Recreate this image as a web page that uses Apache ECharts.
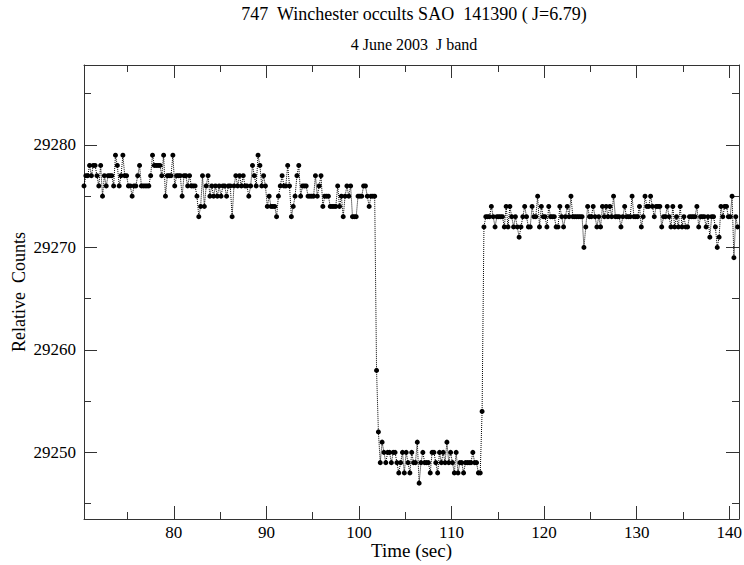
<!DOCTYPE html>
<html>
<head>
<meta charset="utf-8">
<script src="https://cdn.jsdelivr.net/npm/echarts@6/dist/echarts.min.js"></script>
<style>html,body{margin:0;padding:0;background:#fff}#c{width:744px;height:565px}</style>
</head>
<body>
<div id="c"></div>
<script>
// ---- data ----
var titleText = "747  Winchester occults SAO  141390 ( J=6.79)";
var subtitleText = "4 June 2003  J band";
var xName = "Time (sec)";
var yName = "Relative  Counts";
var startTime = 70.3;   // seconds, first sample
var sampleStep = 0.2;   // seconds between samples
var counts = [
29276,29277,29277,29278,29277,29278,29278,29277,29276,29278,
29275,29277,29276,29277,29277,29277,29276,29279,29278,29276,
29277,29279,29277,29277,29276,29276,29275,29276,29276,29277,
29278,29276,29276,29276,29276,29276,29277,29279,29278,29278,
29278,29278,29277,29279,29275,29277,29277,29277,29279,29276,
29277,29277,29277,29275,29277,29277,29276,29277,29276,29276,
29276,29275,29273,29274,29277,29274,29276,29277,29275,29276,
29275,29276,29275,29276,29275,29276,29276,29275,29276,29276,
29273,29276,29277,29276,29277,29276,29277,29276,29276,29275,
29276,29278,29277,29276,29279,29278,29276,29277,29276,29274,
29275,29274,29274,29274,29273,29275,29276,29277,29276,29276,
29278,29276,29273,29274,29275,29277,29278,29275,29276,29276,
29276,29275,29275,29275,29275,29277,29275,29276,29277,29274,
29275,29275,29275,29274,29274,29274,29274,29276,29274,29275,
29273,29275,29276,29275,29276,29273,29273,29273,29275,29275,
29275,29276,29276,29275,29274,29275,29275,29275,29258,29252,
29249,29251,29250,29249,29250,29250,29249,29250,29250,29249,
29248,29249,29250,29248,29250,29249,29248,29250,29249,29249,
29251,29247,29249,29250,29249,29249,29249,29248,29250,29250,
29249,29248,29250,29249,29250,29249,29251,29249,29250,29249,
29248,29250,29248,29249,29249,29248,29249,29249,29249,29249,
29250,29249,29249,29248,29248,29254,29272,29273,29273,29273,
29274,29273,29272,29273,29273,29273,29273,29272,29274,29272,
29274,29273,29272,29273,29272,29271,29272,29273,29274,29273,
29272,29272,29274,29273,29273,29275,29272,29274,29273,29273,
29272,29274,29273,29273,29273,29272,29272,29274,29273,29272,
29273,29274,29273,29275,29273,29273,29273,29273,29273,29273,
29270,29272,29274,29273,29273,29274,29273,29272,29273,29272,
29274,29273,29274,29273,29274,29273,29275,29273,29273,29273,
29272,29273,29274,29273,29273,29273,29275,29273,29273,29273,
29274,29272,29273,29275,29274,29274,29275,29274,29273,29274,
29274,29274,29272,29273,29273,29274,29273,29272,29274,29272,
29273,29272,29274,29272,29273,29272,29272,29273,29273,29273,
29273,29274,29272,29273,29273,29273,29272,29273,29271,29273,
29273,29272,29270,29271,29274,29273,29274,29274,29273,29273,
29275,29269,29273,29272
];
var xMajorTicks = [80, 90, 100, 110, 120, 130, 140];
var xMinorTicks = [75, 85, 95, 105, 115, 125, 135];
var yMajorTicks = [29250, 29260, 29270, 29280];
var yMinorTicks = [29245, 29255, 29265, 29275, 29285];

// ---- chart ----
var points = counts.map(function (v, i) {
  return [+(startTime + i * sampleStep).toFixed(2), v];
});
var FONT = "'Liberation Serif', 'DejaVu Serif', serif";
var AX = '#333';
var xr = [70.3, 141.05], yr = [29243.5, 29287.8];

function xAx(pos, ticks, len, labels, showLine) {
  return {
    type: 'value', position: pos, min: xr[0], max: xr[1],
    axisLine: {show: showLine, onZero: false, lineStyle: {color: AX, width: 1}},
    axisTick: {show: true, inside: true, length: len, customValues: ticks, lineStyle: {color: AX, width: 1}},
    axisLabel: labels ? {show: true, customValues: ticks, color: '#000', fontFamily: FONT, fontSize: 17, margin: 5,
      formatter: function (v) { return String(v); }} : {show: false},
    splitLine: {show: false},
    name: labels ? xName : '', nameLocation: 'middle', nameGap: 22, nameMoveOverlap: false,
    nameTextStyle: {color: '#000', fontFamily: FONT, fontSize: 19, verticalAlign: 'top'}
  };
}
function yAx(pos, ticks, len, labels, showLine) {
  return {
    type: 'value', position: pos, min: yr[0], max: yr[1],
    axisLine: {show: showLine, onZero: false, lineStyle: {color: AX, width: 1}},
    axisTick: {show: true, inside: true, length: len, customValues: ticks, lineStyle: {color: AX, width: 1}},
    axisLabel: labels ? {show: true, customValues: ticks, color: '#000', fontFamily: FONT, fontSize: 17, margin: 8,
      formatter: function (v) { return String(v); }} : {show: false},
    splitLine: {show: false},
    name: labels ? yName : '', nameLocation: 'middle', nameGap: 56, nameRotate: 90, nameMoveOverlap: false,
    nameTextStyle: {color: '#000', fontFamily: FONT, fontSize: 18}
  };
}

var chart = echarts.init(document.getElementById('c'), null, {renderer: 'svg'});
chart.setOption({
  animation: false,
  backgroundColor: '#fff',
  grid: {left: 84, right: 5, top: 65, bottom: 46, containLabel: false, outerBoundsMode: 'none'},
  graphic: [
    {type: 'text', x: 414, y: 14, style: {text: titleText, font: "18px 'Liberation Serif'", fill: '#000', align: 'center', verticalAlign: 'middle'}},
    {type: 'text', x: 414, y: 44, style: {text: subtitleText, font: "16px 'Liberation Serif'", fill: '#000', align: 'center', verticalAlign: 'middle'}}
  ],
  xAxis: [
    xAx('bottom', xMajorTicks, 13, true, true),
    xAx('bottom', xMinorTicks, 7, false, false),
    xAx('top', xMajorTicks, 13, false, true),
    xAx('top', xMinorTicks, 7, false, false)
  ],
  yAxis: [
    yAx('left', yMajorTicks, 13, true, true),
    yAx('left', yMinorTicks, 7, false, false),
    yAx('right', yMajorTicks, 13, false, true),
    yAx('right', yMinorTicks, 7, false, false)
  ],
  series: [{
    type: 'line', xAxisIndex: 0, yAxisIndex: 0, data: points,
    symbol: 'circle', symbolSize: 5, showSymbol: true,
    itemStyle: {color: '#000'},
    lineStyle: {color: '#000', width: 1, type: 'dotted'},
    clip: true
  }]
});
</script>
</body>
</html>
